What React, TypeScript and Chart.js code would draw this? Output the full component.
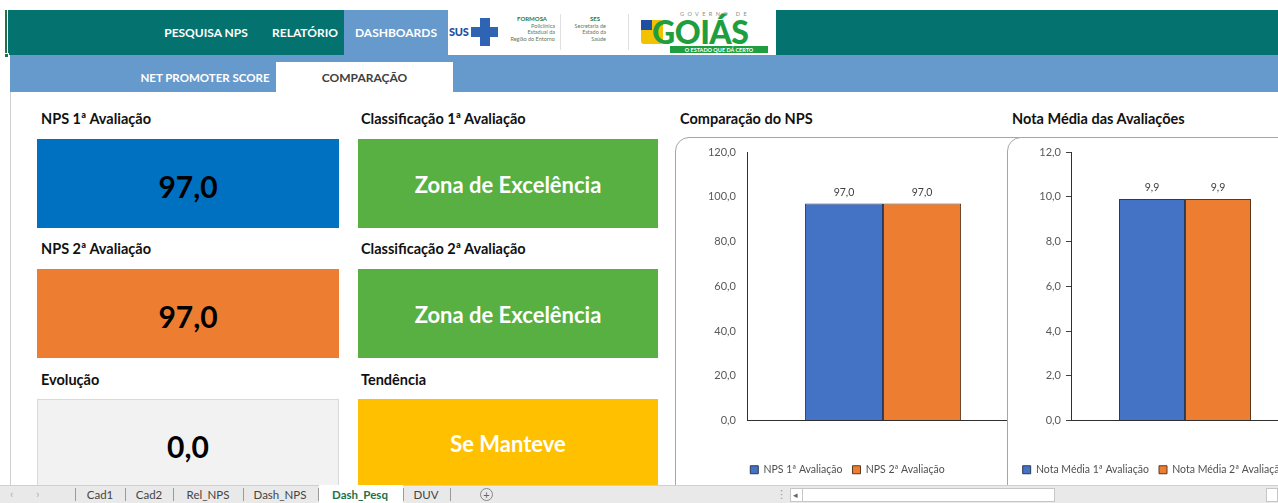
import React, { useEffect, useRef } from "react";
import { Chart, registerables } from "chart.js";
Chart.register(...registerables);

// ---------- data ----------
const npsCategories = [""];
const npsSeriesNames = ["NPS 1ª Avaliação", "NPS 2ª Avaliação"];
const npsFirst = [97.0];
const npsSecond = [97.0];
const npsAxisMin = 0;
const npsAxisMax = 120;
const npsAxisStep = 20;

const notaCategories = [""];
const notaSeriesNames = ["Nota Média 1ª Avaliação", "Nota Média 2ª Avaliação"];
const notaFirst = [9.9];
const notaSecond = [9.9];
const notaAxisMin = 0;
const notaAxisMax = 12;
const notaAxisStep = 2;

const menuItems = ["PESQUISA NPS", "RELATÓRIO", "DASHBOARDS"];
const subMenuItems = ["NET PROMOTER SCORE", "COMPARAÇÃO"];
const sheetTabs = ["Cad1", "Cad2", "Rel_NPS", "Dash_NPS", "Dash_Pesq", "DUV"];
const kpiValues = ["97,0", "97,0", "0,0"];
const kpiClasses = ["Zona de Excelência", "Zona de Excelência", "Se Manteve"];

const FONT = "Lato, 'Open Sans', 'DejaVu Sans', sans-serif";
const fmt = (v: number) => Number(v).toFixed(1).replace(".", ",");

const valueLabels = {
  id: "valueLabels",
  afterDatasetsDraw(chart: any) {
    const ctx = chart.ctx;
    ctx.save();
    ctx.font = `10.5px ${FONT}`;
    ctx.fillStyle = "#404040";
    ctx.textAlign = "center";
    ctx.textBaseline = "middle";
    chart.data.datasets.forEach((ds: any, i: number) => {
      const meta = chart.getDatasetMeta(i);
      meta.data.forEach((el: any, j: number) => {
        ctx.fillText(fmt(ds.data[j]), el.x, el.y - 11);
      });
    });
    ctx.restore();
  },
};

type BarProps = {
  labels: string[];
  names: string[];
  first: number[];
  second: number[];
  min: number;
  max: number;
  step: number;
  yAxisWidth: number;
  tickColor: string;
  tickLength: number;
  width: number;
  height: number;
  catPct: number;
};

function BarChart(p: BarProps) {
  const ref = useRef<HTMLCanvasElement>(null);
  useEffect(() => {
    if (!ref.current) return;
    const chart = new Chart(ref.current, {
      type: "bar",
      data: {
        labels: p.labels,
        datasets: [
          {
            label: p.names[0],
            data: p.first,
            backgroundColor: "#4472C4",
            borderColor: "#2B3A55",
            borderWidth: 1,
            barPercentage: 1,
            categoryPercentage: p.catPct,
          },
          {
            label: p.names[1],
            data: p.second,
            backgroundColor: "#ED7D31",
            borderColor: "#5C3A20",
            borderWidth: 1,
            barPercentage: 1,
            categoryPercentage: p.catPct,
          },
        ],
      },
      options: {
        animation: false,
        responsive: false,
        maintainAspectRatio: false,
        layout: { padding: { top: 13, right: 0, bottom: 0, left: 0 } },
        plugins: {
          legend: {
            position: "bottom",
            labels: {
              boxWidth: 8,
              boxHeight: 8,
              padding: 10,
              color: "#505050",
              font: { size: 10.5, family: FONT },
            },
          },
          tooltip: { enabled: false },
        },
        scales: {
          x: {
            grid: { display: false },
            border: { display: true, color: "#303030", width: 1 },
            ticks: { display: false },
            afterFit: (s: any) => {
              s.height = 34;
            },
          },
          y: {
            min: p.min,
            max: p.max,
            ticks: {
              stepSize: p.step,
              callback: (v: any) => fmt(v),
              color: "#595959",
              font: { size: 11, family: FONT },
              padding: 5,
            },
            grid: {
              display: true,
              drawOnChartArea: false,
              drawTicks: true,
              tickLength: p.tickLength,
              tickColor: p.tickColor,
              color: "#404040",
            },
            border: { display: true, color: "#303030", width: 1 },
            afterFit: (s: any) => {
              s.width = p.yAxisWidth;
            },
          },
        },
      } as any,
      plugins: [valueLabels as any],
    });
    return () => chart.destroy();
  }, []);
  return (
    <canvas
      ref={ref}
      width={p.width}
      height={p.height}
      style={{ width: p.width, height: p.height, display: "block" }}
    />
  );
}

const abs = (left: number, top: number, extra: React.CSSProperties = {}): React.CSSProperties => ({
  position: "absolute",
  left,
  top,
  ...extra,
});

function Centered(props: { left: number; width: number; top: number; height: number; style?: React.CSSProperties; children: React.ReactNode }) {
  return (
    <div
      style={{
        position: "absolute",
        left: props.left,
        top: props.top,
        width: props.width,
        height: props.height,
        display: "flex",
        alignItems: "center",
        justifyContent: "center",
        whiteSpace: "nowrap",
        ...props.style,
      }}
    >
      {props.children}
    </div>
  );
}

export default function App() {
  const titleStyle: React.CSSProperties = { fontWeight: 700, fontSize: 14.5, color: "#111", whiteSpace: "nowrap", lineHeight: "18px" };
  const bigNum: React.CSSProperties = { fontWeight: 700, fontSize: 30, color: "#000" };
  const bigTxt: React.CSSProperties = { fontWeight: 700, fontSize: 22, color: "#fff" };
  const tabSeps = [75, 125, 173, 243, 318, 403, 450];
  const tabCenters = [100, 149, 208, 280, 360, 426];
  const tinyTxt: React.CSSProperties = { fontSize: 5.5, lineHeight: "6.5px", color: "#5d7a63", textAlign: "right", whiteSpace: "nowrap" };

  return (
    <div
      style={{
        position: "fixed",
        left: 0,
        top: 0,
        width: 1278,
        height: 503,
        overflow: "hidden",
        background: "#fff",
        fontFamily: FONT,
      }}
    >
      {/* top teal menu bar */}
      <div style={abs(8, 10, { width: 1270, height: 45, background: "#04736F" })} />
      <div style={abs(5, 10, { width: 2, height: 46, background: "#217346" })} />
      <div style={abs(4, 53, { width: 5, height: 5, background: "#217346", border: "1px solid #fff", boxSizing: "border-box" })} />
      <Centered left={156} width={100} top={10} height={45} style={{ color: "#fff", fontWeight: 700, fontSize: 12 }}>
        {menuItems[0]}
      </Centered>
      <Centered left={263} width={84} top={10} height={45} style={{ color: "#fff", fontWeight: 700, fontSize: 12 }}>
        {menuItems[1]}
      </Centered>
      <Centered left={344} width={104} top={10} height={45} style={{ color: "#fff", fontWeight: 700, fontSize: 12, background: "#6699CC" }}>
        {menuItems[2]}
      </Centered>

      {/* logos */}
      <div style={abs(448, 10, { width: 328, height: 45, background: "#fff" })} />
      <div style={abs(449, 25, { fontSize: 11, fontWeight: 900, color: "#1d4f9e", letterSpacing: -0.3 })}>SUS</div>
      <div style={abs(471, 27, { width: 27, height: 10, background: "#2f64b5" })} />
      <div style={abs(480, 18, { width: 10, height: 28, background: "#2f64b5" })} />
      <div style={abs(495, 16, { width: 60 })}>
        <div style={{ ...tinyTxt, fontWeight: 700, color: "#2d7a3e", fontSize: 6, marginRight: 8 }}>FORMOSA</div>
        <div style={tinyTxt}>Policlínica</div>
        <div style={tinyTxt}>Estadual da</div>
        <div style={tinyTxt}>Região do Entorno</div>
      </div>
      <div style={abs(560, 14, { width: 1, height: 36, background: "#e0e0e0" })} />
      <div style={abs(560, 16, { width: 46 })}>
        <div style={{ ...tinyTxt, fontWeight: 700, color: "#2d7a3e", fontSize: 6, marginRight: 6 }}>SES</div>
        <div style={tinyTxt}>Secretaria de</div>
        <div style={tinyTxt}>Estado da</div>
        <div style={tinyTxt}>Saúde</div>
      </div>
      <div style={abs(628, 14, { width: 1, height: 36, background: "#e0e0e0" })} />
      <div style={abs(680, 11, { fontSize: 5.5, letterSpacing: 3.4, color: "#8a8a8a", whiteSpace: "nowrap", lineHeight: "6px" })}>GOVERNO DE</div>
      <div style={abs(641, 20, { width: 22, height: 24, background: "#f2c200", borderRadius: 3 })} />
      <div style={abs(641, 20, { width: 11, height: 10, background: "#1f4fa0" })} />
      <div style={abs(652, 16, { fontSize: 32, fontWeight: 900, color: "#1E9E3E", lineHeight: "32px", letterSpacing: -0.5 })}>GOIÁS</div>
      <Centered left={670} width={98} top={46} height={7} style={{ background: "#1E9E3E", color: "#fff", fontSize: 5.5, fontWeight: 700 }}>
        O ESTADO QUE DÁ CERTO
      </Centered>

      {/* sub menu */}
      <div style={abs(10, 55, { width: 1268, height: 37, background: "#6699CC" })} />
      <Centered left={130} width={150} top={62} height={30} style={{ color: "#fff", fontWeight: 700, fontSize: 11.5 }}>
        {subMenuItems[0]}
      </Centered>
      <Centered left={276} width={177} top={62} height={30} style={{ color: "#404040", fontWeight: 700, fontSize: 12, background: "#fff" }}>
        {subMenuItems[1]}
      </Centered>
      <div style={abs(10, 92, { width: 1, height: 393, background: "#cfcfcf" })} />

      {/* KPI titles */}
      <div style={abs(41, 110, titleStyle)}>NPS 1ª Avaliação</div>
      <div style={abs(361, 110, titleStyle)}>Classificação 1ª Avaliação</div>
      <div style={abs(41, 240, titleStyle)}>NPS 2ª Avaliação</div>
      <div style={abs(361, 240, titleStyle)}>Classificação 2ª Avaliação</div>
      <div style={abs(41, 371, titleStyle)}>Evolução</div>
      <div style={abs(361, 371, titleStyle)}>Tendência</div>

      {/* KPI boxes */}
      <Centered left={37} width={302} top={139} height={89} style={{ background: "#0070C0", ...bigNum, paddingTop: 5, boxSizing: "border-box" }}>
        {kpiValues[0]}
      </Centered>
      <Centered left={358} width={300} top={139} height={89} style={{ background: "#58B042", ...bigTxt, paddingTop: 2, boxSizing: "border-box" }}>
        {kpiClasses[0]}
      </Centered>
      <Centered left={37} width={302} top={269} height={89} style={{ background: "#ED7D31", ...bigNum, paddingTop: 5, boxSizing: "border-box" }}>
        {kpiValues[1]}
      </Centered>
      <Centered left={358} width={300} top={269} height={89} style={{ background: "#58B042", ...bigTxt, paddingTop: 2, boxSizing: "border-box" }}>
        {kpiClasses[1]}
      </Centered>
      <Centered left={37} width={302} top={399} height={95} style={{ background: "#F2F2F2", border: "1px solid #D9D9D9", boxSizing: "border-box", ...bigNum, paddingBottom: 2 }}>
        {kpiValues[2]}
      </Centered>
      <Centered left={358} width={300} top={399} height={95} style={{ background: "#FFC000", ...bigTxt, paddingBottom: 6, boxSizing: "border-box" }}>
        {kpiClasses[2]}
      </Centered>

      {/* chart titles */}
      <div style={abs(680, 110, titleStyle)}>Comparação do NPS</div>
      <div style={abs(1012, 110, titleStyle)}>Nota Média das Avaliações</div>

      {/* chart 1 */}
      <div style={abs(675, 137, { width: 360, height: 370, border: "1px solid #A6A6A6", borderRadius: 14, background: "#fff", boxSizing: "border-box" })} />
      <div style={abs(676, 139)}>
        <BarChart
          labels={npsCategories}
          names={npsSeriesNames}
          first={npsFirst}
          second={npsSecond}
          min={npsAxisMin}
          max={npsAxisMax}
          step={npsAxisStep}
          yAxisWidth={71}
          tickColor="rgba(0,0,0,0)"
          tickLength={6}
          width={343}
          height={346}
          catPct={0.574}
        />
      </div>

      {/* chart 2 */}
      <div style={abs(1007, 137, { width: 320, height: 370, border: "1px solid #A6A6A6", borderRadius: 14, background: "#fff", boxSizing: "border-box" })} />
      <div style={abs(1009, 139)}>
        <BarChart
          labels={notaCategories}
          names={notaSeriesNames}
          first={notaFirst}
          second={notaSecond}
          min={notaAxisMin}
          max={notaAxisMax}
          step={notaAxisStep}
          yAxisWidth={62}
          tickColor="#404040"
          tickLength={5}
          width={290}
          height={346}
          catPct={0.579}
        />
      </div>

      {/* sheet tab bar */}
      <div style={abs(0, 485, { width: 1278, height: 18, background: "#E9E9E9", borderTop: "1px solid #D0D0D0", boxSizing: "border-box" })} />
      <div style={abs(10, 486, { fontSize: 12, color: "#b0b0b0", lineHeight: "16px" })}>‹</div>
      <div style={abs(36, 486, { fontSize: 12, color: "#b0b0b0", lineHeight: "16px" })}>›</div>
      <div style={abs(319, 485, { width: 84, height: 18, background: "#fff" })} />
      {tabSeps.map((x, i) => (
        <div key={"s" + i} style={abs(x, 488, { width: 1, height: 13, background: "#9a9a9a" })} />
      ))}
      {sheetTabs.map((t, i) => (
        <Centered
          key={t}
          left={tabCenters[i] - 40}
          width={80}
          top={486}
          height={17}
          style={{
            fontSize: 11.5,
            color: t === "Dash_Pesq" ? "#217346" : "#444",
            fontWeight: t === "Dash_Pesq" ? 700 : 400,
          }}
        >
          {t}
        </Centered>
      ))}
      <Centered left={480} width={13} top={488} height={13} style={{ border: "1px solid #888", borderRadius: "50%", boxSizing: "border-box", fontSize: 11, color: "#666", lineHeight: "11px" }}>
        +
      </Centered>
      <div style={abs(776, 486, { fontSize: 11, color: "#999", lineHeight: "16px" })}>⋮</div>
      <div style={abs(790, 488, { width: 265, height: 14, background: "#fff", border: "1px solid #c6c6c6", boxSizing: "border-box" })} />
      <div style={abs(793, 487, { fontSize: 9, color: "#666", lineHeight: "16px" })}>◂</div>
      <div style={abs(802, 489, { width: 1, height: 12, background: "#c6c6c6" })} />
      <div style={abs(1266, 488, { width: 12, height: 14, background: "#fff", border: "1px solid #c6c6c6", boxSizing: "border-box" })} />
    </div>
  );
}
